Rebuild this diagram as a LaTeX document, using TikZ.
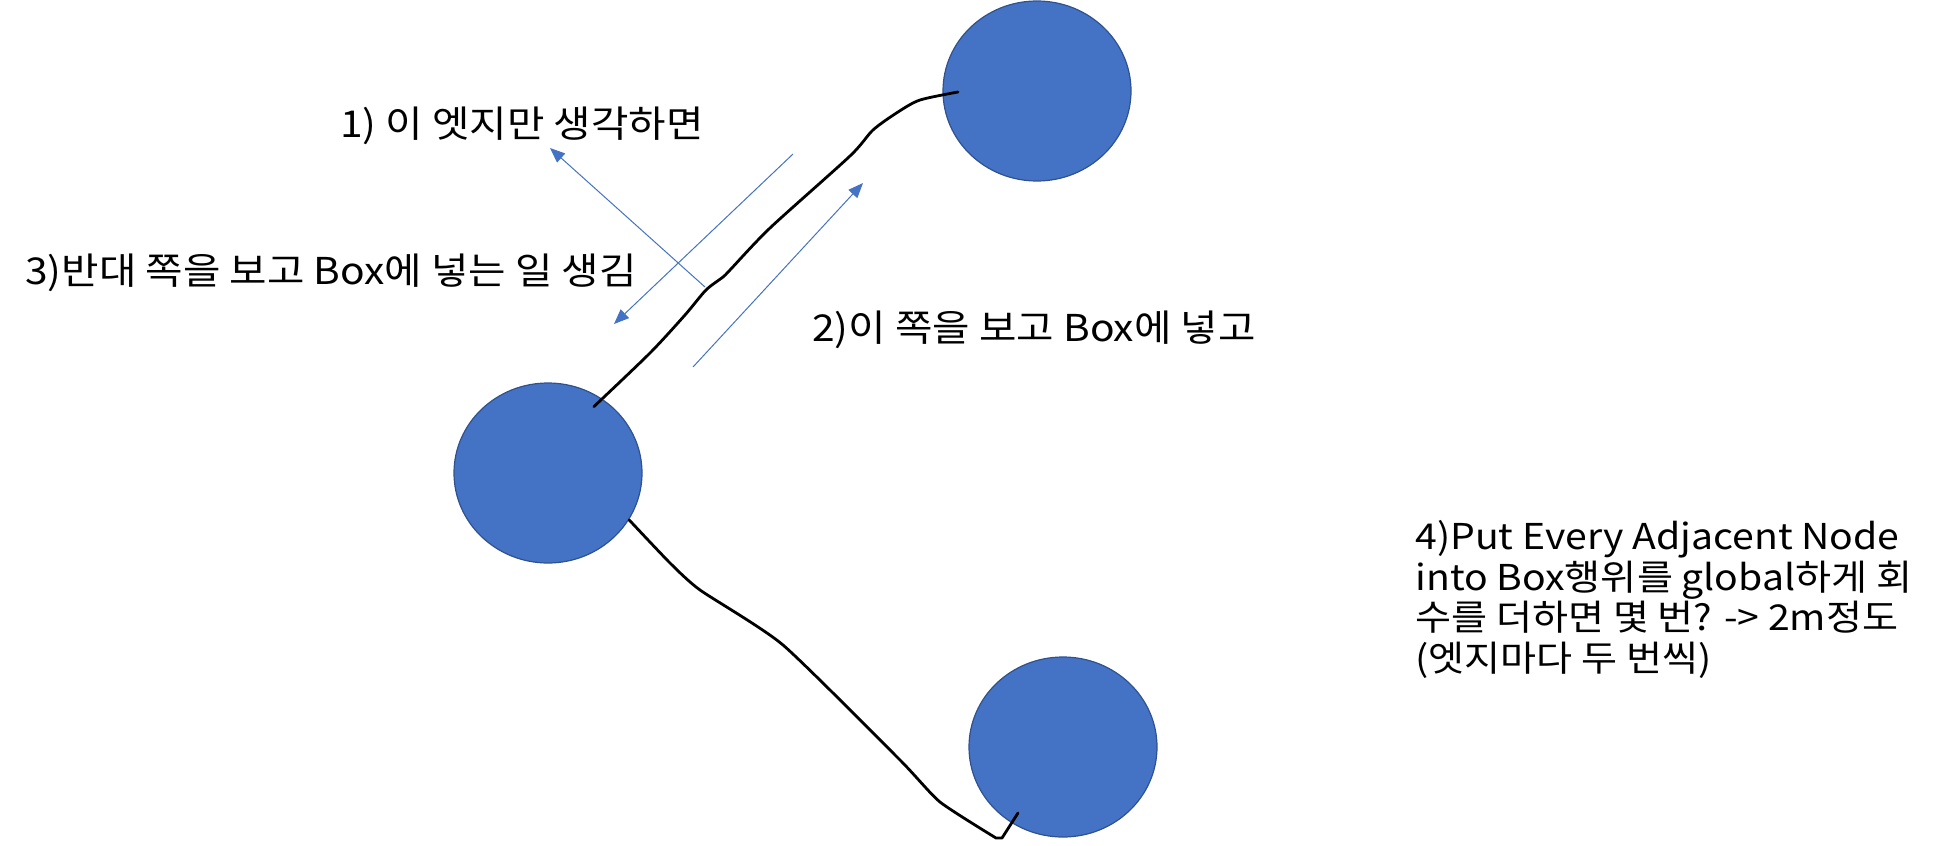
\documentclass[tikz,border=0pt]{standalone}
\usepackage{fontspec}
\setmainfont{Noto Sans CJK KR}[FakeStretch=1.1]
\usetikzlibrary{shapes.geometric,arrows.meta,positioning}
\definecolor{nodeblue}{HTML}{4472C4}
\definecolor{nodeline}{HTML}{2F528F}

\begin{document}
\begin{tikzpicture}[x=0.5pt,y=-0.5pt,
  vertex/.style={ellipse,draw=nodeline,line width=0.6pt,fill=nodeblue,
    minimum width=94pt,minimum height=90pt,inner sep=0pt},
  pen/.style={line width=1.4pt,line cap=round,line join=round},
  hint/.style={draw=nodeblue,line width=0.5pt,-{Triangle[length=7.5pt,width=6pt]}},
  note/.style={font=\fontsize{18.5}{20.3}\selectfont,anchor=west,inner sep=0pt}]
  % canvas in pixels of the sketch, y grows downwards
  \useasboundingbox (0,0) rectangle (1960,846);
  \node[vertex] (top) at (1037,91) {};
  \node[vertex] (lft) at (548,473) {};
  \node[vertex] (bot) at (1063,747) {};
  % hand drawn edges
  \coordinate (ta) at ([shift={(0,13)}]lft.60);
  \coordinate (tb) at ([shift={(-79,1)}]top.center);
  \coordinate (ba) at (lft.-30);
  \coordinate (bb) at ([shift={(-45,66)}]bot.center);
  \draw[pen] plot[smooth,tension=0.45] coordinates {(ta) (650,353) (685,315)
    (706,290) (723,277) (730,270) (770,228) (850,156) (873,130) (898,112)
    (920,100) (tb)};
  \draw[pen] plot[smooth,tension=0.35] coordinates {(ba) (670,563) (700,590)
    (783,645) (900,760) (940,802) (996,838)} -- (1002,838) -- (bb);
  % direction hints
  \coordinate (h1a) at (705,287);  \coordinate (h1b) at (550,148);
  \coordinate (h2a) at (693,367);  \coordinate (h2b) at (863,183);
  \coordinate (h3a) at (793,154);  \coordinate (h3b) at (614,324);
  \draw[hint] (h1a) -- (h1b);
  \draw[hint] (h2a) -- (h2b);
  \draw[hint] (h3a) -- (h3b);
  % notes
  \node[note] (n1) at (340,126) {1)\ 이 엣지만 생각하면};
  \node[note] (n3) at (25,273) {3)반대 쪽을 보고 Box에 넣는 일 생김};
  \node[note] (n2) at (812,330) {2)이 쪽을 보고 Box에 넣고};
  \node[note,font=\fontsize{17.8}{20.3}\selectfont,anchor=north west,align=left] (n4) at (1415,520)
    {4)Put Every Adjacent Node\\into Box행위를 global하게 회\\수를 더하면 몇 번? -> 2m정도\\(엣지마다 두 번씩)};
\end{tikzpicture}
\end{document}
